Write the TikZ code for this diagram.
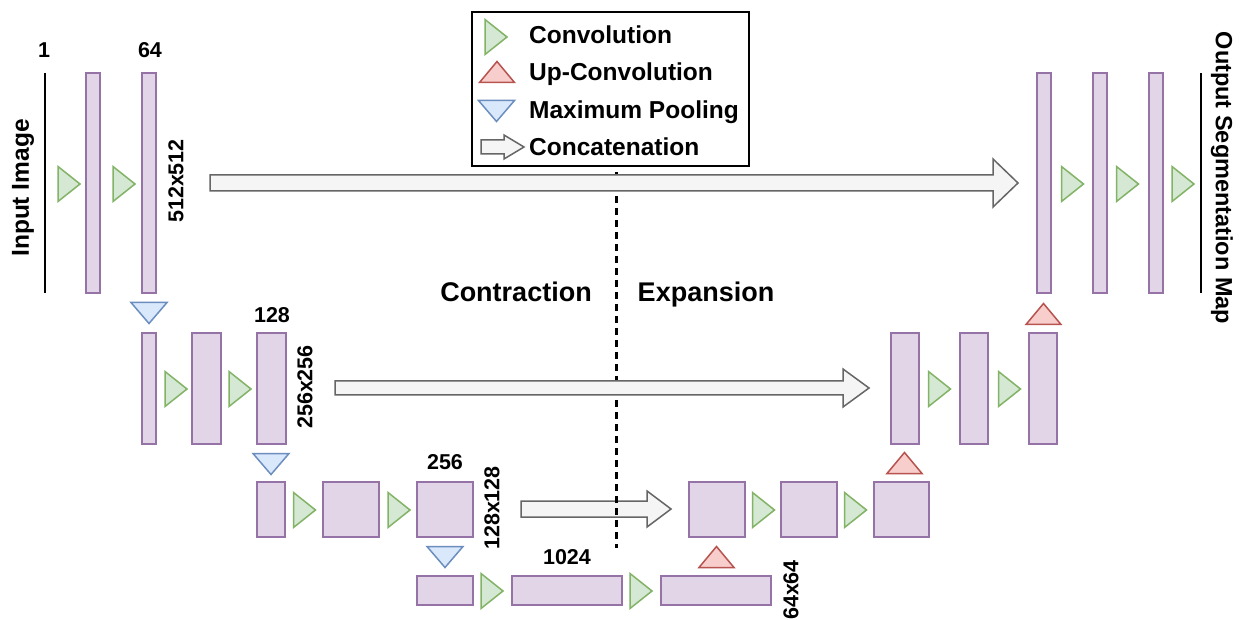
\documentclass[tikz,border=0pt]{standalone}
\usepackage{fontspec}
\setmainfont{Liberation Sans}
\definecolor{barfill}{HTML}{E1D5E7}
\definecolor{barline}{HTML}{9673A6}
\definecolor{convfill}{HTML}{D5E8D4}
\definecolor{convline}{HTML}{82B366}
\definecolor{upfill}{HTML}{F8CECC}
\definecolor{upline}{HTML}{B85450}
\definecolor{poolfill}{HTML}{DAE8FC}
\definecolor{poolline}{HTML}{6C8EBF}
\definecolor{arrfill}{HTML}{F5F5F5}
\definecolor{arrline}{HTML}{666666}
\newcommand\convtri[2]{\draw[convst] (#1-11,#2-17.5) -- (#1+11,#2) -- (#1-11,#2+17.5) -- cycle;}
\newcommand\pooltri[2]{\draw[poolst] (#1-18,#2-10.5) -- (#1+18,#2-10.5) -- (#1,#2+10.5) -- cycle;}
\newcommand\uptri[2]{\draw[upst] (#1-17.5,#2+10.5) -- (#1+17.5,#2+10.5) -- (#1,#2-10.5) -- cycle;}
% left x, tip x, centre y, body half, head length, head half
\newcommand\catarrow[6]{\draw[catst] (#1,#3-#4) -- (#2-#5,#3-#4) -- (#2-#5,#3-#6) -- (#2,#3) -- (#2-#5,#3+#6) -- (#2-#5,#3+#4) -- (#1,#3+#4) -- cycle;}
\begin{document}
\begin{tikzpicture}[x=1pt,y=-1pt,
  bar/.style={draw=barline,fill=barfill,line width=1.5pt,inner sep=0pt,minimum width=#1},
  bar/.default=14pt,
  convst/.style={draw=convline,fill=convfill,line width=1.5pt,line join=miter},
  poolst/.style={draw=poolline,fill=poolfill,line width=1.5pt},
  upst/.style={draw=upline,fill=upfill,line width=1.5pt},
  catst/.style={draw=arrline,fill=arrfill,line width=1.5pt},
  lbl/.style={font=\bfseries\fontsize{21.5}{24}\selectfont,inner sep=0pt},
  leg/.style={font=\bfseries\fontsize{24.5}{28}\selectfont,inner sep=0pt,anchor=base west},
  big/.style={font=\bfseries\fontsize{27}{30}\selectfont,inner sep=0pt,anchor=base}]
\useasboundingbox (0,0) rectangle (1243,620);
\fill[white] (0,0) rectangle (1243,620);

% ---- row 1 (512x512)
\draw[line width=2pt] (45,73) coordinate (inA) -- (45,293) coordinate (inB);
\node[bar, minimum height=220pt] (r1a) at (93,183) {};
\node[bar, minimum height=220pt] (r1b) at (149,183) {};
\node[bar, minimum height=220pt] (r1c) at (1044,183) {};
\node[bar, minimum height=220pt] (r1d) at (1100,183) {};
\node[bar, minimum height=220pt] (r1e) at (1156,183) {};
\draw[line width=2pt] (1201,73) coordinate (outA) -- (1201,293) coordinate (outB);
\convtri{69}{184}
\convtri{124}{184}
\convtri{1072.5}{184}
\convtri{1127.5}{184}
\convtri{1183}{184}
\pooltri{149}{313}
\uptri{1043.5}{314}

% ---- row 2 (256x256)
\node[bar, minimum height=111pt] (r2a) at (149,388.5) {};
\node[bar=29pt, minimum height=111pt] (r2b) at (206.5,388.5) {};
\node[bar=29pt, minimum height=111pt] (r2c) at (271.5,388.5) {};
\node[bar=28pt, minimum height=111pt] (r2d) at (905,388.5) {};
\node[bar=28pt, minimum height=111pt] (r2e) at (974,388.5) {};
\node[bar=28pt, minimum height=111pt] (r2f) at (1043,388.5) {};
\convtri{176}{389}
\convtri{240}{389}
\convtri{939.5}{389}
\convtri{1009.5}{389}
\pooltri{271}{464}
\uptri{904.5}{463}

% ---- row 3 (128x128)
\node[bar=28pt, minimum height=55pt] (r3a) at (271,509.5) {};
\node[bar=56pt, minimum height=55pt] (r3b) at (351,509.5) {};
\node[bar=56pt, minimum height=55pt] (r3c) at (445,509.5) {};
\node[bar=56pt, minimum height=55pt] (r3d) at (717,509.5) {};
\node[bar=56pt, minimum height=55pt] (r3e) at (809,509.5) {};
\node[bar=55pt, minimum height=55pt] (r3f) at (901.5,509.5) {};
\convtri{304.5}{510}
\convtri{399}{510}
\convtri{763.5}{510}
\convtri{855.5}{510}
\pooltri{445}{557}
\uptri{716.5}{557}

% ---- row 4 (64x64)
\node[bar=56pt, minimum height=29pt] (r4a) at (445,590.5) {};
\node[bar=110pt, minimum height=29pt] (r4b) at (567,590.5) {};
\node[bar=110pt, minimum height=29pt] (r4c) at (716,590.5) {};
\convtri{492}{591}
\convtri{641}{591}

% ---- concatenation arrows and divider
\catarrow{521}{671}{509}{8}{24}{18}
\draw[line width=3pt,dash pattern=on 7pt off 5pt] (616,172) coordinate (divA) -- (616,548) coordinate (divB);
\catarrow{210}{1018}{183}{8}{25}{24}
\catarrow{335}{869}{388}{7}{26}{19}

% ---- legend
\node[draw=black,line width=2pt,minimum width=277pt,minimum height=154pt,inner sep=0pt] (legend) at (610.5,89) {};
\convtri{496}{37}
\uptri{497}{72}
\pooltri{496.5}{111}
\catarrow{481}{524}{147}{7}{20}{12}
\node[leg] (lg1) at (529,43.5) {Convolution};
\node[leg] (lg2) at (529,80.5) {Up-Convolution};
\node[leg] (lg3) at (529,119) {Maximum Pooling};
\node[leg] (lg4) at (529,156) {Concatenation};

% ---- labels
\node[lbl] (t1) at (44,50) {1};
\node[lbl] (t64) at (150,50) {64};
\node[lbl] (t128) at (272,315) {128};
\node[lbl] (t256) at (445,462) {256};
\node[lbl] (t1024) at (567,557) {1024};
\node[lbl,rotate=90] (s512) at (176,181) {512x512};
\node[lbl,rotate=90] (s256) at (305,387) {256x256};
\node[lbl,rotate=90] (s128) at (492,508) {128x128};
\node[lbl,rotate=90] (s64) at (791,590) {64x64};
\node[font=\bfseries\fontsize{24.5}{28}\selectfont,inner sep=0pt,rotate=90] (inp) at (23,188) {Input Image};
\node[font=\bfseries\fontsize{23.5}{28}\selectfont,inner sep=0pt,rotate=-90] (outp) at (1222,178) {Output Segmentation Map};
\node[big] (contr) at (516,302) {Contraction};
\node[big] (expan) at (706,302) {Expansion};
\end{tikzpicture}
\end{document}
